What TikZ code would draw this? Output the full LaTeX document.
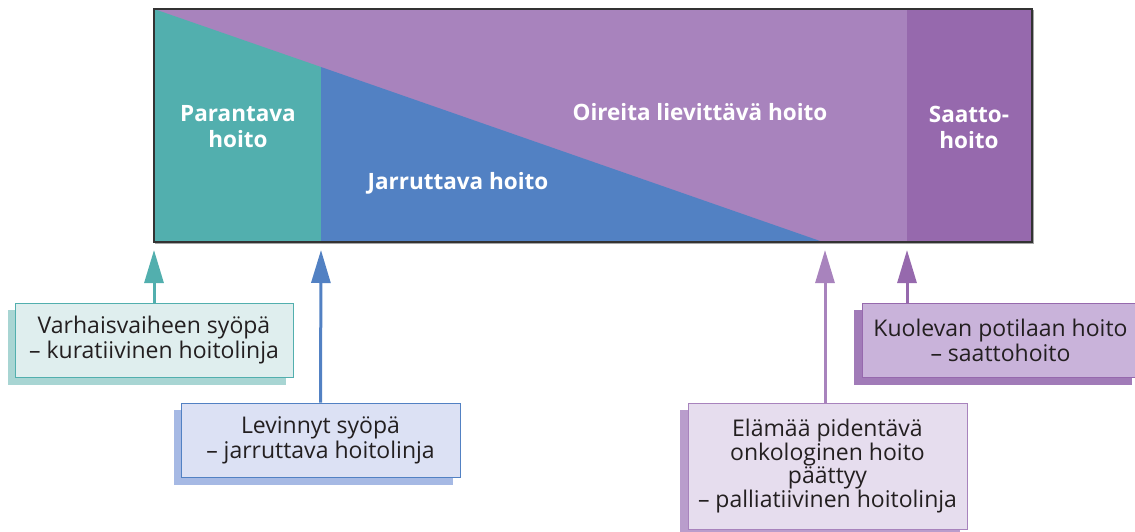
\documentclass[tikz,border=0pt]{standalone}
\usepackage{fontspec}
\setmainfont{Open Sans}
\usetikzlibrary{arrows.meta,shadows}
\definecolor{cteal}{HTML}{52AFAE}
\definecolor{cblue}{HTML}{5281C3}
\definecolor{clpur}{HTML}{A883BD}
\definecolor{cdpur}{HTML}{9669AD}
\definecolor{ctext}{HTML}{231F20}
\definecolor{bteal}{HTML}{DFEEEE}
\definecolor{steal}{HTML}{A8D5D3}
\definecolor{bblue}{HTML}{DCE1F4}
\definecolor{sblue}{HTML}{A6B9E4}
\definecolor{blpur}{HTML}{E6DDEE}
\definecolor{slpur}{HTML}{B99DCC}
\definecolor{bdpur}{HTML}{C9B3DA}
\definecolor{sdpur}{HTML}{A17BB8}
\begin{document}
\begin{tikzpicture}[x=1pt,y=-1pt,
  lbl/.style={text=white,font=\fontsize{22.5}{26}\selectfont\bfseries,align=center,inner sep=0},
  infobox/.style={draw=#1,line width=1pt,inner sep=0,minimum width=278pt,minimum height=74pt,
    text=ctext,font=\fontsize{23}{25}\selectfont,align=center},
  arr/.style={draw=#1,line width=3pt,-{Triangle[length=33pt,width=19pt,fill=#1]}}]
\clip (0,0) rectangle (1135,531);
% main bar
\fill[clpur] (154,9) rectangle (1032,242);
\fill[cteal] (154,9) -- (321,67) -- (321,242) -- (154,242) -- cycle;
\fill[cblue] (321,67) -- (823,242) -- (321,242) -- cycle;
\fill[cdpur] (907,9) rectangle (1032,242);
\draw[draw=black!35,line width=1pt] (155,243.5) -- (1033,243.5) -- (1033,10);
\draw[draw=black!80,line width=1.3pt] (154,9) rectangle (1032,242);
\node[lbl] (paran) at (238,127) {Parantava\\hoito};
\node[lbl,anchor=base] (oire) at (700,120) {Oireita lievittävä hoito};
\node[lbl,anchor=base] (jarru) at (458,189) {Jarruttava hoito};
\node[lbl] (saatto) at (969,127) {Saatto-\\hoito};
% anchor points on bar bottom
\coordinate (t1) at (154,250);
\coordinate (t2) at (321,250);
\coordinate (t3) at (825,250);
\coordinate (t4) at (907,250);
% boxes
\fill[steal] (8,310) rectangle (286,385);
\node[infobox=cteal,fill=bteal] (b1) at (154,340) {Varhaisvaiheen syöpä\\– kuratiivinen hoitolinja};
\fill[sblue] (174,410) rectangle (453,485);
\node[infobox=cblue,fill=bblue,minimum width=279pt] (b2) at (320.5,440) {Levinnyt syöpä\\– jarruttava hoitolinja};
\fill[slpur] (680,410) rectangle (960,540);
\node[infobox=clpur,fill=blpur,minimum width=279pt,minimum height=126pt,font=\fontsize{23}{23.5}\selectfont] (b3) at (827.5,466) {Elämää pidentävä\\onkologinen hoito\\päättyy\\– palliatiivinen hoitolinja};
\fill[sdpur] (854,310) rectangle (1132,385);
\node[infobox=cdpur,fill=bdpur,minimum width=277pt] (b4) at (1000.5,340) {Kuolevan potilaan hoito\\– saattohoito};
% arrows
\draw[arr=cteal] (b1.north) -- (t1);
\draw[arr=cblue] (b2.north) -- (t2);
\draw[arr=clpur] (b3.north -| t3) -- (t3);
\draw[arr=cdpur] (b4.north -| t4) -- (t4);
\end{tikzpicture}
\end{document}
